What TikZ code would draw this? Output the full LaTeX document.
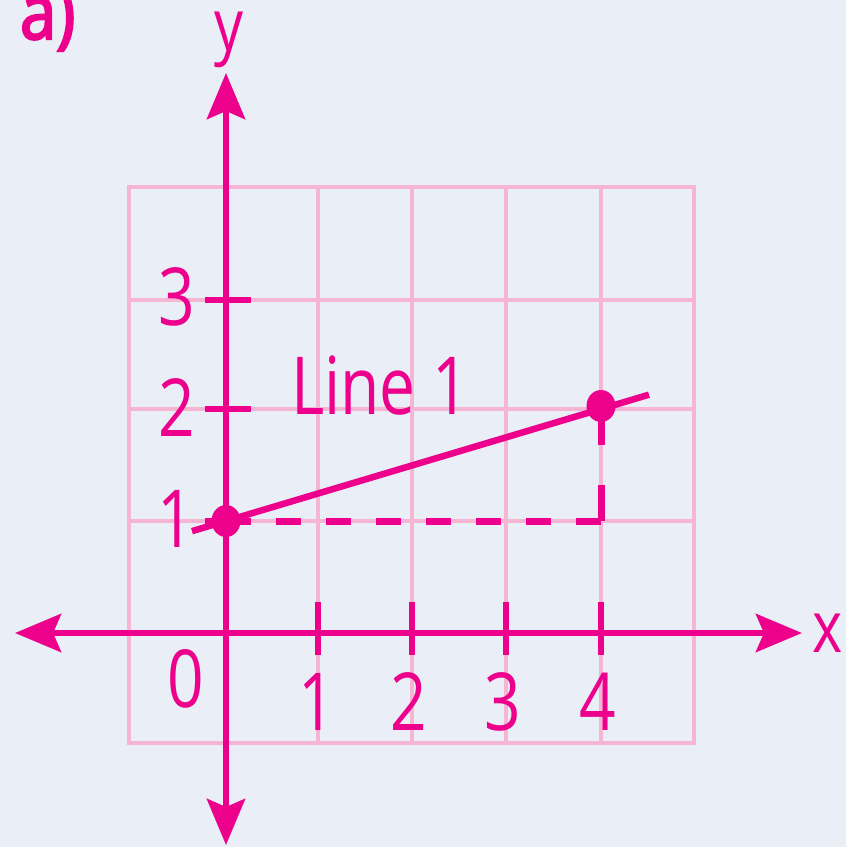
\documentclass[tikz,border=0pt]{standalone}
\usepackage{fontspec}
\setmainfont{Open Sans}
\newfontfamily\lblfont[FakeStretch=0.8]{Open Sans}
\newfontfamily\afont[FakeStretch=0.85,FakeBold=3]{Open Sans}
\usetikzlibrary{arrows.meta,calc}
\definecolor{mag}{HTML}{EC008C}
\definecolor{gridpink}{HTML}{F5B5D3}
\definecolor{bgblue}{HTML}{E9EEF7}
\tikzset{
  axisline/.style={draw=mag, line width=6.5pt,
    {Stealth[length=46pt,width=38pt,inset=8pt]}-{Stealth[length=46pt,width=38pt,inset=8pt]}},
  gridline/.style={draw=gridpink, line width=3.5pt},
  tickmark/.style={draw=mag, line width=6pt},
  mainline/.style={draw=mag, line width=6.5pt},
  dashhoriz/.style={draw=mag, line width=7pt, dash pattern=on 25pt off 25pt},
  dashvert/.style={draw=mag, line width=7pt, dash pattern=on 36pt off 40pt on 60pt off 10pt},
  lbl/.style={text=mag, inner sep=0pt, font=\lblfont\fontsize{80pt}{96pt}\selectfont},
  axlbl/.style={text=mag, inner sep=0pt, font=\lblfont\fontsize{72pt}{84pt}\selectfont},
  dotnode/.style={ellipse, fill=mag, minimum width=29pt, minimum height=32pt, inner sep=0pt},
}
\usetikzlibrary{shapes.geometric}
\begin{document}
\begin{tikzpicture}[x=1pt,y=-1pt]
  % background / bounding box
  \fill[bgblue] (0,0) rectangle (846,847);
  \useasboundingbox (0,0) rectangle (846,847);

  % grid
  \draw[gridline] (129,187) rectangle (694,743);
  \foreach \gx in {226,318,412,506,601} \draw[gridline] (\gx,187) -- (\gx,743);
  \foreach \gy in {300,409,521,633} \draw[gridline] (129,\gy) -- (694,\gy);

  % key points
  \coordinate (p1) at (226,521);
  \coordinate (p2) at (601,409);
  \coordinate (corner) at (601,521);

  % dashed guides
  \draw[dashhoriz] (p1) -- (corner);
  \draw[dashvert] (corner) -- (p2);

  % axes
  \coordinate (xl) at (15,633);
  \coordinate (xr) at (802,633);
  \coordinate (yb) at (226,845);
  \coordinate (yt) at (226,73);
  \draw[axisline] (xl) -- (xr);
  \draw[axisline] (yb) -- (yt);

  % ticks on x axis
  \foreach \tx in {318,412,506,601} \draw[tickmark] (\tx,602) -- (\tx,655);
  % ticks on y axis
  \foreach \ty in {300,409,521} \draw[tickmark] (205,\ty) -- (251,\ty);

  % Line 1
  \draw[mainline] ($(p1)!-0.0907!(p2)$) -- ($(p2)!-0.128!(p1)$);

  % dots
  \node[dotnode] (d1) at (p1) {};
  \node[dotnode] (d2) at ($(p2)+(0,-3)$) {};

  % labels
  \node[text=mag, inner sep=0pt, font=\afont\fontsize{76pt}{90pt}\selectfont, anchor=base west] (lab) at (20,39) {a)};
  \node[axlbl] (ylab) at (229,40) {y};
  \node[axlbl] (xlab) at (828,633) {x};
  \node[lbl] (l1) at (380,386) {Line 1};
  \node[lbl] (y3) at (177,297) {3};
  \node[lbl] (y2) at (177,408) {2};
  \node[lbl] (y1) at (176,519) {1};
  \node[lbl] (o) at (186,679) {0};
  \node[lbl] (x1) at (317,702) {1};
  \node[lbl] (x2) at (409,702) {2};
  \node[lbl] (x3) at (503,702) {3};
  \node[lbl] (x4) at (598,702) {4};
\end{tikzpicture}
\end{document}
